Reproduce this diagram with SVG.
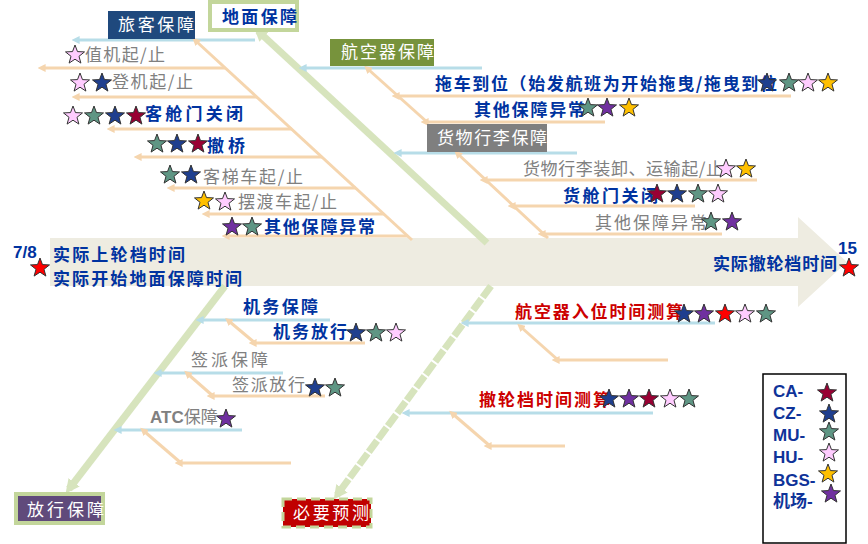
<svg xmlns="http://www.w3.org/2000/svg" width="868" height="544" viewBox="0 0 868 544">
<style>
text{font-family:"Noto Sans CJK SC","Liberation Sans",sans-serif;font-size:17px}
.hd{fill:#fff}
.db{fill:#0033A0;font-weight:bold}
.gr{fill:#808080}
.rd{fill:#CC0000;font-weight:bold}
.en{font-family:"Liberation Sans","Noto Sans CJK SC",sans-serif;font-weight:bold}
.lg{fill:#0F3399;font-family:"Liberation Sans","Noto Sans CJK SC",sans-serif;font-weight:bold;font-size:17px}
.bl{stroke:#B7DDE8;stroke-width:3;fill:none;marker-start:url(#mb)}
.be{stroke:#F5D5AE;stroke-width:3;fill:none;marker-start:url(#me)}
.bg{stroke:#D7E4BD;stroke-width:7;fill:none;marker-end:url(#mg)}
.st{stroke:#333;stroke-width:1}
.ca{fill:#990033}.cz{fill:#1F3F8F}.mu{fill:#5F9684}.hu{fill:#FFCCFF}.bgs{fill:#FFC000}.ap{fill:#7030A0}.red{fill:#FF0000}
</style>
<defs>
<path id="s" class="st" d="M0,-10 L2.47,-3.4 L9.51,-3.09 L3.99,1.3 L5.88,8.09 L0,4.2 L-5.88,8.09 L-3.99,1.3 L-9.51,-3.09 L-2.47,-3.4 Z"/>
<marker id="mb" markerUnits="userSpaceOnUse" markerWidth="8" markerHeight="8" viewBox="0 0 10 10" refX="2" refY="5" orient="auto-start-reverse"><path d="M0,0 L10,5 L0,10 z" fill="#B7DDE8"/></marker>
<marker id="me" markerUnits="userSpaceOnUse" markerWidth="8" markerHeight="8" viewBox="0 0 10 10" refX="2" refY="5" orient="auto-start-reverse"><path d="M0,0 L10,5 L0,10 z" fill="#F5D5AE"/></marker>
<marker id="mg" markerUnits="userSpaceOnUse" markerWidth="14" markerHeight="14" viewBox="0 0 10 10" refX="6" refY="5" orient="auto"><path d="M0,0 L10,5 L0,10 z" fill="#D7E4BD"/></marker>
</defs>

<!-- main arrow -->
<g id="main-arrow">
<polygon points="50,238 798,238 798,217 847,262 798,307 798,286 50,286" fill="#EEECE1"/>
</g>

<g id="connectors">
<!-- big green -->
<line class="bg" x1="487" y1="243" x2="258" y2="31"/>
<line class="bg" x1="225" y1="286" x2="69" y2="489"/>
<line class="bg" x1="491" y1="286" x2="337" y2="495" stroke-width="5" stroke-dasharray="14,2"/>
<!-- passenger -->
<line class="bl" x1="78" y1="40" x2="255" y2="40"/>
<line class="be" x1="197" y1="42" x2="412" y2="240"/>
<line class="be" x1="44" y1="68" x2="225" y2="68"/>
<line class="be" x1="78" y1="97" x2="257" y2="97"/>
<line class="be" x1="113" y1="129" x2="292" y2="129"/>
<line class="be" x1="140" y1="157" x2="322" y2="157"/>
<line class="be" x1="173" y1="188" x2="356" y2="188"/>
<line class="be" x1="208" y1="214" x2="384" y2="214"/>
<line class="be" x1="228" y1="236" x2="408" y2="236"/>
<!-- aircraft -->
<line class="bl" x1="305" y1="68" x2="482" y2="68"/>
<line class="be" x1="369" y1="70" x2="427" y2="122"/>
<line class="be" x1="398" y1="96" x2="791" y2="96"/>
<line class="be" x1="427" y1="122" x2="605" y2="122"/>
<!-- cargo -->
<line class="bl" x1="400" y1="153" x2="577" y2="153"/>
<line class="be" x1="459" y1="155" x2="548" y2="238"/>
<line class="be" x1="486" y1="180" x2="757" y2="180"/>
<line class="be" x1="514" y1="206" x2="695" y2="206"/>
<line class="be" x1="544" y1="234" x2="722" y2="234"/>
<!-- release -->
<line class="bl" x1="202" y1="320" x2="330" y2="320"/>
<line class="be" x1="230" y1="322" x2="255" y2="343"/>
<line class="be" x1="255" y1="343" x2="365" y2="343"/>
<line class="bl" x1="160" y1="373" x2="283" y2="373"/>
<line class="be" x1="189" y1="375" x2="213" y2="396"/>
<line class="be" x1="213" y1="396" x2="325" y2="396"/>
<line class="bl" x1="120" y1="430" x2="242" y2="430"/>
<line class="be" x1="145" y1="432" x2="181" y2="463"/>
<line class="be" x1="181" y1="463" x2="291" y2="463"/>
<!-- prediction -->
<line class="bl" x1="467" y1="323" x2="715" y2="323"/>
<line class="be" x1="522" y1="328" x2="558" y2="360"/>
<line class="be" x1="558" y1="360" x2="668" y2="360"/>
<line class="bl" x1="408" y1="413" x2="653" y2="413"/>
<line class="be" x1="454" y1="415" x2="490" y2="446"/>
<line class="be" x1="490" y1="446" x2="565" y2="446"/>
</g>

<!-- headers -->
<g id="passenger">
<rect x="108" y="11" width="87" height="28" fill="#1F497D"/>
<text class="hd" x="118" y="31" textLength="76" lengthAdjust="spacing">旅客保障</text>
</g>
<g id="ground">
<rect x="210" y="2" width="87" height="28" fill="#fff" stroke="#C3D69B" stroke-width="4"/>
<text class="db" x="222" y="23" textLength="75" lengthAdjust="spacing">地面保障</text>
</g>
<g id="aircraft">
<rect x="330" y="39" width="104" height="27" fill="#77933C"/>
<text class="hd" x="341" y="58" textLength="93" lengthAdjust="spacing">航空器保障</text>
</g>
<g id="cargo">
<rect x="427" y="124" width="120" height="28" fill="#7F7F7F"/>
<text class="hd" x="437" y="144" textLength="110" lengthAdjust="spacing">货物行李保障</text>
</g>
<g id="release">
<rect x="16" y="494" width="87" height="29" fill="#604A7B" stroke="#C3D69B" stroke-width="4"/>
<text class="hd" x="27" y="516" textLength="77" lengthAdjust="spacing">放行保障</text>
</g>
<g id="predict">
<rect x="283" y="499" width="88" height="28" fill="#C00000" stroke="#C3D69B" stroke-width="3" stroke-dasharray="9,5"/>
<text class="hd" x="293" y="519" textLength="76" lengthAdjust="spacing">必要预测</text>
</g>

<!-- passenger items -->
<g id="checkin">
<use href="#s" class="hu" x="75" y="55"/>
<text class="gr" x="85" y="61" textLength="80" lengthAdjust="spacing">值机起/止</text>
</g>
<g id="boarding">
<use href="#s" class="hu" x="80" y="83"/><use href="#s" class="cz" x="102" y="83"/>
<text class="gr" x="112" y="88" textLength="81" lengthAdjust="spacing">登机起/止</text>
</g>
<g id="cabin-door">
<use href="#s" class="hu" x="73" y="116"/><use href="#s" class="mu" x="94" y="116"/><use href="#s" class="cz" x="115" y="116"/><use href="#s" class="ca" x="136" y="116"/>
<text class="db" x="145" y="120" textLength="98" lengthAdjust="spacing">客舱门关闭</text>
</g>
<g id="bridge">
<use href="#s" class="mu" x="157" y="144"/><use href="#s" class="cz" x="177" y="144"/><use href="#s" class="ca" x="198" y="144"/>
<text class="db" x="207" y="152" textLength="38" lengthAdjust="spacing">撤桥</text>
</g>
<g id="stairs">
<use href="#s" class="mu" x="170" y="175"/><use href="#s" class="cz" x="191" y="175"/>
<text class="gr" x="203" y="183" textLength="100" lengthAdjust="spacing">客梯车起/止</text>
</g>
<g id="shuttle">
<use href="#s" class="bgs" x="204" y="201"/><use href="#s" class="hu" x="225" y="202"/>
<text class="gr" x="238" y="208" textLength="99" lengthAdjust="spacing">摆渡车起/止</text>
</g>
<g id="other-pax">
<use href="#s" class="ap" x="232" y="227"/><use href="#s" class="mu" x="252" y="227"/>
<text class="db" x="264" y="233" textLength="111" lengthAdjust="spacing">其他保障异常</text>
</g>

<!-- main labels -->
<g id="start">
<text class="db en" x="13" y="258" font-size="16">7/8</text>
<use href="#s" class="red" x="40" y="268"/>
<text class="db" x="53" y="261" font-size="16.5" textLength="132" lengthAdjust="spacing">实际上轮档时间</text>
<text class="db" x="53" y="285" font-size="16.5" textLength="189" lengthAdjust="spacing">实际开始地面保障时间</text>
</g>
<g id="end">
<text class="db" x="713" y="270" textLength="124" lengthAdjust="spacing">实际撤轮档时间</text>
<text class="db en" x="838" y="254" font-size="16">15</text>
<use href="#s" class="red" x="849" y="268"/>
</g>

<!-- aircraft items -->
<g id="tow">
<text class="db" x="435" y="90" textLength="342" lengthAdjust="spacing">拖车到位（始发航班为开始拖曳/拖曳到位</text>
<use href="#s" class="cz" x="767" y="83"/><use href="#s" class="mu" x="789" y="83"/><use href="#s" class="hu" x="808" y="83"/><use href="#s" class="bgs" x="828" y="83"/>
</g>
<g id="other-ac">
<text class="db" x="474" y="116" textLength="111" lengthAdjust="spacing">其他保障异常</text>
<use href="#s" class="mu" x="588" y="108"/><use href="#s" class="ap" x="607" y="108"/><use href="#s" class="bgs" x="629" y="108"/>
</g>

<!-- cargo items -->
<g id="loading">
<text class="gr" x="523" y="175" textLength="200" lengthAdjust="spacing">货物行李装卸、运输起/止</text>
<use href="#s" class="hu" x="726" y="169"/><use href="#s" class="bgs" x="746" y="169"/>
</g>
<g id="hold-door">
<text class="db" x="563" y="202" textLength="95" lengthAdjust="spacing">货舱门关闭</text>
<use href="#s" class="ca" x="657" y="194"/><use href="#s" class="cz" x="677" y="194"/><use href="#s" class="mu" x="698" y="194"/><use href="#s" class="hu" x="718" y="194"/>
</g>
<g id="other-cargo">
<text class="gr" x="595" y="229" textLength="112" lengthAdjust="spacing">其他保障异常</text>
<use href="#s" class="mu" x="711" y="222"/><use href="#s" class="ap" x="732" y="222"/>
</g>

<!-- release items -->
<g id="maint">
<text class="db" x="243" y="313" textLength="75" lengthAdjust="spacing">机务保障</text>
</g>
<g id="maint-release">
<text class="db" x="273" y="338" textLength="74" lengthAdjust="spacing">机务放行</text>
<use href="#s" class="cz" x="356" y="333"/><use href="#s" class="mu" x="376" y="333"/><use href="#s" class="hu" x="396" y="333"/>
</g>
<g id="dispatch">
<text class="gr" x="191" y="366" textLength="77" lengthAdjust="spacing">签派保障</text>
</g>
<g id="dispatch-release">
<text class="gr" x="232" y="391" textLength="73" lengthAdjust="spacing">签派放行</text>
<use href="#s" class="cz" x="315" y="388"/><use href="#s" class="mu" x="335" y="388"/>
</g>
<g id="atc">
<text class="gr" x="150" y="423"><tspan class="en">ATC</tspan>保障</text>
<use href="#s" class="ap" x="226" y="419"/>
</g>

<!-- prediction items -->
<g id="ac-in">
<text class="rd" x="515" y="318" textLength="168" lengthAdjust="spacing">航空器入位时间测算</text>
<use href="#s" class="cz" x="684" y="314"/><use href="#s" class="ap" x="704" y="314"/><use href="#s" class="red" x="725" y="314"/><use href="#s" class="hu" x="745" y="314"/><use href="#s" class="mu" x="766" y="314"/>
</g>
<g id="chock-off">
<text class="rd" x="479" y="406" textLength="131" lengthAdjust="spacing">撤轮档时间测算</text>
<use href="#s" class="cz" x="609" y="399"/><use href="#s" class="ap" x="629" y="399"/><use href="#s" class="ca" x="649" y="399"/><use href="#s" class="hu" x="670" y="399"/><use href="#s" class="mu" x="689" y="399"/>
</g>

<!-- legend -->
<g id="legend">
<rect x="763" y="374" width="83" height="169" fill="#fff" stroke="#000" stroke-width="1.5"/>
<text class="lg" x="773" y="397">CA-</text><use href="#s" class="ca" x="827" y="393"/>
<text class="lg" x="773" y="419">CZ-</text><use href="#s" class="cz" x="829" y="414"/>
<text class="lg" x="773" y="441">MU-</text><use href="#s" class="mu" x="829" y="432"/>
<text class="lg" x="773" y="463">HU-</text><use href="#s" class="hu" x="829" y="453"/>
<text class="lg" x="773" y="486">BGS-</text><use href="#s" class="bgs" x="828" y="474"/>
<text class="lg" x="773" y="507">机场-</text><use href="#s" class="ap" x="831" y="494"/>
</g>
</svg>
